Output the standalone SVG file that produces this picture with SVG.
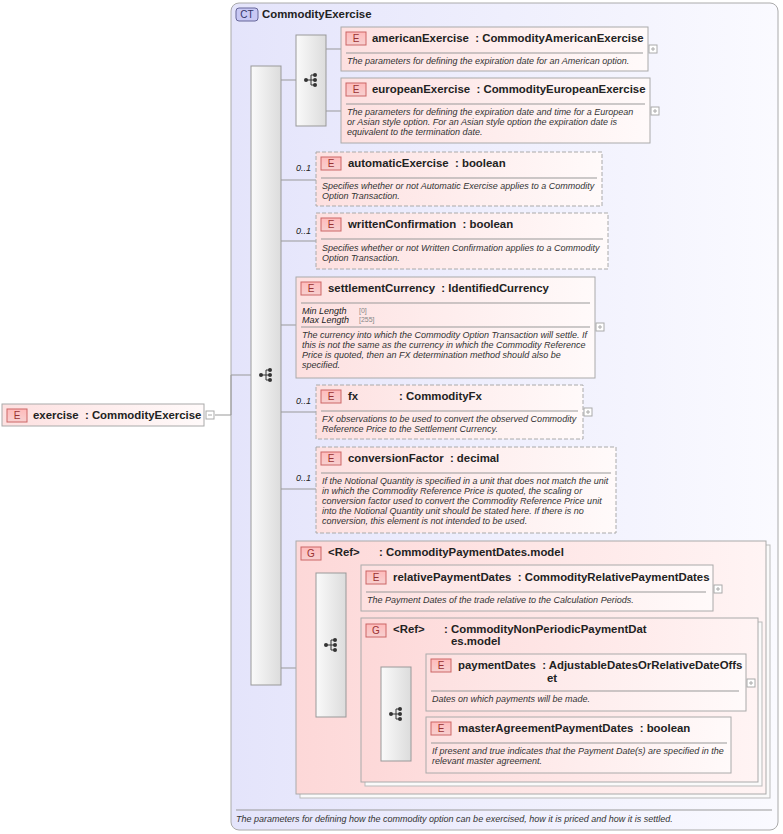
<svg xmlns="http://www.w3.org/2000/svg" width="783" height="834" viewBox="0 0 783 834">
<defs>
<linearGradient id="ct" x1="0" y1="0" x2="1" y2="0"><stop offset="0" stop-color="#e4e4fb"/><stop offset="1" stop-color="#fafaff"/></linearGradient>
<linearGradient id="el" x1="0" y1="0" x2="1" y2="0"><stop offset="0" stop-color="#fde0e0"/><stop offset="1" stop-color="#fffafa"/></linearGradient>
<linearGradient id="gr" x1="0" y1="0" x2="1" y2="0"><stop offset="0" stop-color="#fdd8d8"/><stop offset="1" stop-color="#fff4f4"/></linearGradient>
<linearGradient id="bar" x1="0" y1="0" x2="1" y2="0"><stop offset="0" stop-color="#fafafa"/><stop offset="1" stop-color="#dcdcdc"/></linearGradient>
<linearGradient id="badge" x1="0" y1="0" x2="0" y2="1"><stop offset="0" stop-color="#fbb"/><stop offset="1" stop-color="#f7d0d0"/></linearGradient>
<g id="seq"><circle cx="-6" cy="0" r="2" fill="#333"/><path d="M-6 0H-1M-1 -5V5M-1 -5H3M-1 0H3M-1 5H3" stroke="#333" fill="none"/><circle cx="3" cy="-5" r="2" fill="#333"/><circle cx="3" cy="0" r="2" fill="#333"/><circle cx="3" cy="5" r="2" fill="#333"/></g>
<g id="plus"><rect x="0" y="0" width="8" height="8" fill="#fff" stroke="#aaa"/><path d="M2 4H6M4 2V6" stroke="#aaa"/></g>
</defs>
<style>
text{white-space:pre}
.el{fill:url(#el);stroke:#aaa;stroke-width:1}
.opt{fill:url(#el);stroke:#aaa;stroke-width:1;stroke-dasharray:4 2}
.grp{fill:url(#gr);stroke:#aaa}
.bar{fill:url(#bar);stroke:#999}
.badge{fill:url(#badge);stroke:#c66}
.sep{stroke:#999;stroke-width:1}
.n{font-family:"Liberation Sans",Arial,sans-serif;font-size:11.4px;font-weight:bold;fill:#222}
.b{font-family:"Liberation Sans",Arial,sans-serif;font-size:10px;fill:#933}
.d{font-family:"Liberation Sans",Arial,sans-serif;font-size:9px;font-style:italic;fill:#333}
.k{font-family:"Liberation Sans",Arial,sans-serif;font-size:9px;font-style:italic;fill:#222}
.v{font-family:"Liberation Sans",Arial,sans-serif;font-size:7px;fill:#888}
.c{font-family:"Liberation Sans",Arial,sans-serif;font-size:9px;font-style:italic;fill:#333}
.ln{stroke:#999;fill:none}
</style>
<g id="ct-box">
<rect x="231" y="3" width="547" height="827" rx="8" fill="url(#ct)" stroke="#aaa"/>
<rect x="236" y="8" width="22" height="13" rx="3" fill="#c8c8f4" stroke="#669"/>
<text x="247" y="18" text-anchor="middle" class="b" style="fill:#336">CT</text>
<text x="262" y="18" class="n">CommodityExercise</text>
<line x1="236" y1="810" x2="772" y2="810" class="sep"/>
<text x="236" y="822" class="c">The parameters for defining how the commodity option can be exercised, how it is priced and how it is settled.</text>
</g>
<g id="connectors" class="ln">
<path d="M215 415H231V375H251"/>
<path d="M281 80H296M281 180H316M281 241H316M281 325H296M281 412H316M281 489H316M281 668H296"/>
<path d="M326 49H341M326 111H341"/>
<path d="M296 646H316M346 588H361M346 702H361M361 714H381M411 682H426M411 745H426"/>
</g>
<g id="exercise">
<rect x="2" y="404" width="202" height="22" class="el"/>
<rect x="7" y="409" width="20" height="13" class="badge"/><text x="17" y="419" text-anchor="middle" class="b">E</text>
<text x="33" y="419" class="n">exercise  : CommodityExercise</text>
<rect x="206" y="411" width="8" height="8" fill="#fff" stroke="#aaa"/><path d="M208 415H212" stroke="#aaa"/>
</g>
<g id="seq-main"><rect x="251" y="66" width="30" height="619" class="bar"/><use href="#seq" x="267" y="375"/></g>
<g id="choice"><rect x="296" y="35" width="30" height="91" class="bar"/><use href="#seq" x="312" y="80"/></g>
<g id="americanExercise">
<rect x="341" y="27" width="307" height="44" class="el"/>
<rect x="346" y="32" width="20" height="13" class="badge"/><text x="356" y="42" text-anchor="middle" class="b">E</text>
<text x="372" y="42" class="n">americanExercise  : CommodityAmericanExercise</text>
<line x1="346" y1="53" x2="643" y2="53" class="sep"/>
<text x="347" y="64" class="d">The parameters for defining the expiration date for an American option.</text>
<use href="#plus" x="649" y="45"/>
</g>
<g id="europeanExercise">
<rect x="341" y="78" width="309" height="65" class="el"/>
<rect x="346" y="83" width="20" height="13" class="badge"/><text x="356" y="93" text-anchor="middle" class="b">E</text>
<text x="372" y="93" class="n">europeanExercise  : CommodityEuropeanExercise</text>
<line x1="346" y1="104" x2="645" y2="104" class="sep"/>
<text x="347" y="115" class="d">The parameters for defining the expiration date and time for a European</text>
<text x="347" y="125" class="d">or Asian style option. For an Asian style option the expiration date is</text>
<text x="347" y="135" class="d">equivalent to the termination date.</text>
<use href="#plus" x="651" y="107"/>
</g>
<g id="automaticExercise">
<text x="296" y="171" class="k">0..1</text>
<rect x="316" y="152" width="286" height="54" class="opt"/>
<rect x="321" y="157" width="20" height="13" class="badge"/><text x="331" y="167" text-anchor="middle" class="b">E</text>
<text x="348" y="167" class="n">automaticExercise  : boolean</text>
<line x1="321" y1="178" x2="597" y2="178" class="sep"/>
<text x="322" y="189" class="d">Specifies whether or not Automatic Exercise applies to a Commodity</text>
<text x="322" y="199" class="d">Option Transaction.</text>
</g>
<g id="writtenConfirmation">
<text x="296" y="234" class="k">0..1</text>
<rect x="316" y="213" width="292" height="56" class="opt"/>
<rect x="321" y="218" width="20" height="13" class="badge"/><text x="331" y="228" text-anchor="middle" class="b">E</text>
<text x="348" y="228" class="n">writtenConfirmation  : boolean</text>
<line x1="321" y1="239" x2="603" y2="239" class="sep"/>
<text x="322" y="251" class="d">Specifies whether or not Written Confirmation applies to a Commodity</text>
<text x="322" y="261" class="d">Option Transaction.</text>
</g>
<g id="settlementCurrency">
<rect x="296" y="277" width="299" height="101" class="el"/>
<rect x="301" y="282" width="20" height="13" class="badge"/><text x="311" y="292" text-anchor="middle" class="b">E</text>
<text x="328" y="292" class="n">settlementCurrency  : IdentifiedCurrency</text>
<line x1="301" y1="303" x2="590" y2="303" class="sep"/>
<text x="302" y="314" class="k">Min Length</text><text x="359" y="313" class="v">[0]</text>
<text x="302" y="323" class="k">Max Length</text><text x="359" y="322" class="v">[255]</text>
<line x1="301" y1="327" x2="590" y2="327" class="sep"/>
<text x="302" y="338" class="d">The currency into which the Commodity Option Transaction will settle. If</text>
<text x="302" y="348" class="d">this is not the same as the currency in which the Commodity Reference</text>
<text x="302" y="358" class="d">Price is quoted, then an FX determination method should also be</text>
<text x="302" y="368" class="d">specified.</text>
<use href="#plus" x="596" y="323"/>
</g>
<g id="fx">
<text x="296" y="404" class="k">0..1</text>
<rect x="316" y="385" width="267" height="54" class="opt"/>
<rect x="321" y="390" width="20" height="13" class="badge"/><text x="331" y="400" text-anchor="middle" class="b">E</text>
<text x="348" y="400" class="n">fx</text><text x="399" y="400" class="n">: CommodityFx</text>
<line x1="321" y1="411" x2="578" y2="411" class="sep"/>
<text x="322" y="422" class="d">FX observations to be used to convert the observed Commodity</text>
<text x="322" y="432" class="d">Reference Price to the Settlement Currency.</text>
<use href="#plus" x="584" y="408"/>
</g>
<g id="conversionFactor">
<text x="296" y="481" class="k">0..1</text>
<rect x="316" y="447" width="300" height="86" class="opt"/>
<rect x="321" y="452" width="20" height="13" class="badge"/><text x="331" y="462" text-anchor="middle" class="b">E</text>
<text x="348" y="462" class="n">conversionFactor  : decimal</text>
<line x1="321" y1="473" x2="611" y2="473" class="sep"/>
<text x="322" y="484" class="d">If the Notional Quantity is specified in a unit that does not match the unit</text>
<text x="322" y="494" class="d">in which the Commodity Reference Price is quoted, the scaling or</text>
<text x="322" y="504" class="d">conversion factor used to convert the Commodity Reference Price unit</text>
<text x="322" y="514" class="d">into the Notional Quantity unit should be stated here. If there is no</text>
<text x="322" y="524" class="d">conversion, this element is not intended to be used.</text>
</g>
<g id="CommodityPaymentDates.model">
<rect x="300" y="545" width="470" height="253" fill="#fafafa" stroke="#bbb"/>
<rect x="296" y="541" width="470" height="253" class="grp"/>
<rect x="301" y="547" width="20" height="13" class="badge"/><text x="311" y="557" text-anchor="middle" class="b">G</text>
<text x="328" y="556" class="n">&lt;Ref&gt;</text><text x="379" y="556" class="n">: CommodityPaymentDates.model</text>
<rect x="316" y="573" width="30" height="144" class="bar"/><use href="#seq" x="332" y="645"/>
</g>
<g id="relativePaymentDates">
<rect x="361" y="565" width="352" height="46" class="el"/>
<rect x="366" y="571" width="20" height="13" class="badge"/><text x="376" y="581" text-anchor="middle" class="b">E</text>
<text x="393" y="581" class="n">relativePaymentDates  : CommodityRelativePaymentDates</text>
<line x1="366" y1="592" x2="706" y2="592" class="sep"/>
<text x="367" y="603" class="d">The Payment Dates of the trade relative to the Calculation Periods.</text>
<use href="#plus" x="714" y="585"/>
</g>
<g id="CommodityNonPeriodicPaymentDates.model">
<rect x="365" y="622" width="397" height="164" fill="#fafafa" stroke="#bbb"/>
<rect x="361" y="618" width="397" height="164" class="grp"/>
<rect x="366" y="624" width="20" height="13" class="badge"/><text x="376" y="634" text-anchor="middle" class="b">G</text>
<text x="393" y="633" class="n">&lt;Ref&gt;</text><text x="444" y="633" class="n">: CommodityNonPeriodicPaymentDat</text>
<text x="451" y="645" class="n">es.model</text>
<rect x="381" y="667" width="30" height="94" class="bar"/><use href="#seq" x="397" y="714"/>
</g>
<g id="paymentDates">
<rect x="426" y="654" width="320" height="57" class="el"/>
<rect x="431" y="659" width="20" height="13" class="badge"/><text x="441" y="669" text-anchor="middle" class="b">E</text>
<text x="458" y="669" class="n">paymentDates  : AdjustableDatesOrRelativeDateOffs</text>
<text x="547" y="682" class="n">et</text>
<line x1="431" y1="691" x2="739" y2="691" class="sep"/>
<text x="432" y="702" class="d">Dates on which payments will be made.</text>
<use href="#plus" x="747" y="679"/>
</g>
<g id="masterAgreementPaymentDates">
<rect x="426" y="717" width="305" height="56" class="el"/>
<rect x="431" y="722" width="20" height="13" class="badge"/><text x="441" y="732" text-anchor="middle" class="b">E</text>
<text x="458" y="732" class="n">masterAgreementPaymentDates  : boolean</text>
<line x1="431" y1="743" x2="727" y2="743" class="sep"/>
<text x="432" y="754" class="d">If present and true indicates that the Payment Date(s) are specified in the</text>
<text x="432" y="764" class="d">relevant master agreement.</text>
</g>
</svg>
